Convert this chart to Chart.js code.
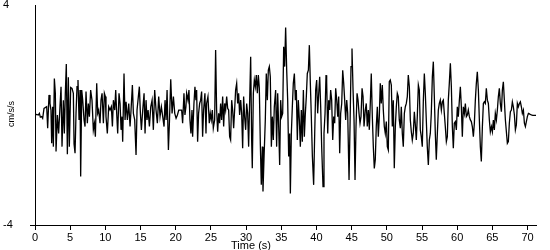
<!DOCTYPE html>
<html>
<head>
<meta charset="utf-8">
<script src="https://cdn.jsdelivr.net/npm/chart.js@4.4.0/dist/chart.umd.min.js"></script>
<style>
  html, body { margin: 0; padding: 0; background: #fff; }
  #wrap { width: 550px; height: 250px; }
</style>
</head>
<body>
<div id="wrap"><canvas id="accelChart" width="550" height="250"></canvas></div>
<script>
// time (s) of each sample
var times = [
  0.00,0.24,0.47,0.62,0.76,0.95,1.09,1.28,1.66,1.80,
  1.99,2.13,2.27,2.37,2.51,2.61,2.75,2.89,2.99,3.18,
  3.36,3.55,3.70,3.84,4.03,4.17,4.31,4.45,4.60,4.74,
  4.88,5.07,5.26,5.45,5.55,5.69,5.83,5.97,6.11,6.26,
  6.40,6.49,6.64,6.78,6.97,7.11,7.25,7.44,7.58,7.73,
  7.91,8.10,8.29,8.44,8.58,8.77,8.91,9.05,9.24,9.38,
  9.53,9.72,9.86,10.00,10.09,10.28,10.47,10.66,10.85,11.00,
  11.14,11.33,11.47,11.61,11.75,11.94,12.09,12.23,12.37,12.46,
  12.65,12.80,12.94,13.13,13.32,13.51,13.65,13.84,13.98,14.17,
  14.36,14.50,14.64,14.83,14.98,15.12,15.31,15.50,15.64,15.78,
  15.92,16.07,16.26,16.45,16.64,16.82,17.01,17.20,17.39,17.58,
  17.77,17.96,18.15,18.34,18.48,18.63,18.77,18.96,19.10,19.29,
  19.48,19.67,19.86,20.05,20.24,20.43,
  20.84,20.98,21.17,21.31,21.45,21.55,21.74,21.88,22.02,22.16,
  22.31,22.40,22.59,22.73,22.87,22.97,23.11,23.25,23.40,23.54,
  23.68,23.82,23.96,24.15,24.30,24.39,24.58,24.77,24.91,25.05,
  25.20,25.34,25.53,25.67,25.81,25.96,26.10,26.24,26.38,26.52,
  26.67,26.81,26.95,27.09,27.24,27.38,27.52,27.66,27.80,27.95,
  28.09,28.23,28.37,28.51,28.66,28.80,28.94,29.08,29.23,29.37,
  29.51,29.65,29.79,29.94,30.08,30.22,30.36,30.51,30.65,30.79,
  30.88,31.03,31.17,31.31,31.45,31.60,31.74,31.88,32.02,32.16,
  32.31,32.40,32.54,32.73,32.87,33.02,33.16,33.30,33.44,33.59,
  33.73,33.87,34.01,34.20,34.34,34.49,34.63,34.77,34.91,35.05,
  35.20,35.34,35.48,35.62,35.77,35.91,36.05,36.19,36.29,36.43,
  36.57,36.71,36.86,37.00,37.14,37.28,37.42,37.57,37.71,37.85,
  37.99,38.14,38.28,38.42,38.56,38.70,38.85,38.99,39.13,39.27,
  39.42,39.60,39.75,39.89,40.03,40.17,40.32,40.46,40.60,40.74,
  40.93,41.07,41.22,41.36,41.45,41.60,41.74,41.88,42.02,42.16,
  42.31,42.45,42.59,42.73,42.88,43.02,43.16,43.30,43.44,43.59,
  43.73,43.87,44.01,44.15,44.30,44.44,44.63,44.77,44.91,45.05,
  45.20,45.34,45.48,45.62,45.77,45.91,46.05,46.19,46.33,46.48,
  46.62,46.76,
  46.94,47.08,47.22,47.37,47.51,47.65,47.79,47.94,48.08,48.22,
  48.36,48.50,48.65,48.79,48.93,49.07,49.21,49.36,49.50,49.64,
  49.78,49.93,50.07,50.21,50.35,50.49,50.64,50.78,50.92,51.06,
  51.21,51.35,51.49,51.63,51.77,51.92,52.06,52.20,52.34,52.49,
  52.63,52.77,52.91,53.05,53.20,53.34,53.48,53.62,53.76,53.91,
  54.05,54.19,54.33,54.48,54.62,54.76,54.90,55.04,55.19,55.33,
  55.47,55.61,55.75,55.90,56.04,56.18,56.32,56.47,56.61,56.75,
  56.89,57.03,57.18,57.32,57.46,57.60,57.75,57.89,58.03,58.17,
  58.31,58.46,58.60,58.74,58.88,59.03,59.17,59.31,59.45,59.59,
  59.74,59.88,60.02,60.16,60.31,60.45,60.59,60.73,60.87,61.02,
  61.16,61.30,61.44,61.58,61.73,61.87,62.01,62.15,62.30,62.44,
  62.58,62.72,62.86,63.01,63.15,63.29,63.43,63.58,63.72,63.86,
  64.00,64.14,64.29,64.43,64.57,64.71,64.86,65.00,65.14,65.28,
  65.42,65.57,65.71,65.85,65.99,66.13,66.28,66.42,66.56,66.70,
  66.85,66.99,67.13,67.27,67.41,67.56,67.70,67.84,67.98,68.13,
  68.27,68.41,68.55,68.69,68.84,68.98,69.12,69.26,69.41,69.55,
  69.69,69.83,69.97,70.12,70.26,70.40,70.54,70.73,71.21
];

// acceleration (cm/s/s) at each of those times
var accel = [
  0.00,0.02,0.00,0.06,-0.08,-0.06,-0.12,0.24,0.30,-0.48,
  0.73,0.42,0.18,-1.03,0.30,-1.15,1.33,0.79,-1.33,0.00,
  -0.67,0.30,1.03,-1.15,0.54,-0.67,0.79,1.85,-1.43,1.37,
  -1.15,1.00,0.97,0.79,-1.05,-1.39,0.06,1.03,1.27,-0.18,
  0.91,-2.24,0.91,0.54,-0.18,-0.42,0.85,-0.30,0.42,-0.06,
  0.91,0.54,-0.54,-0.30,-0.79,1.15,0.06,0.18,-0.30,0.54,
  0.79,-0.30,0.79,0.67,-0.06,-0.67,0.30,0.18,0.30,-0.42,
  0.54,0.18,0.91,0.06,-0.67,0.79,0.42,-0.54,-0.06,-0.97,
  1.51,-0.18,0.48,-0.18,0.42,-0.42,0.18,1.09,0.06,-0.18,
  -1.45,0.18,0.54,1.03,0.06,-0.54,0.18,0.79,-0.67,0.54,
  -0.18,0.18,-0.42,0.30,0.54,-0.54,0.91,0.18,-0.30,0.67,
  -0.06,0.30,-0.06,-0.42,0.54,-0.18,0.91,-1.27,-0.30,1.30,
  0.06,0.67,0.06,-0.12,0.00,0.18,
  0.18,-0.30,0.79,0.00,0.30,0.79,0.54,0.91,-0.18,-0.67,
  0.18,-0.79,0.42,1.03,0.54,0.91,-0.97,0.06,0.42,0.54,
  0.85,-0.79,0.18,0.79,-0.67,0.42,0.67,-0.30,0.06,-0.18,
  0.18,-0.48,-0.18,2.36,0.18,-0.61,0.06,-0.30,0.42,-0.18,
  0.67,-0.42,0.42,0.18,0.67,0.24,0.18,-0.79,-0.91,0.54,
  0.18,-0.48,0.18,0.91,1.15,0.42,0.79,0.00,0.54,0.06,
  -1.21,0.67,-0.06,-0.54,0.42,0.06,-1.15,0.54,2.12,-0.91,
  -1.94,0.79,1.27,1.03,1.45,0.79,1.45,0.97,-1.03,-2.54,
  -1.15,-2.78,-1.63,-0.18,1.51,0.54,1.63,1.76,1.39,-1.15,
  -0.06,-0.91,0.30,0.91,-1.15,0.79,-0.42,-1.82,0.54,-0.06,
  0.06,2.48,1.76,3.18,1.63,0.54,-1.51,-0.67,-2.85,-0.67,
  0.30,1.15,1.51,0.54,0.91,-0.91,0.54,-0.18,-1.15,0.18,
  -0.97,0.91,-0.79,0.06,0.67,1.51,1.63,2.54,1.15,-0.06,
  -1.51,-2.54,-0.67,0.91,1.27,0.06,0.79,1.39,0.30,-1.15,
  -2.60,-0.67,0.06,1.45,1.21,-0.67,0.54,0.18,0.91,0.54,
  -0.91,-0.06,-0.30,0.97,0.54,-0.06,0.67,-1.39,0.06,0.42,
  1.63,1.15,0.54,-0.18,0.54,0.06,-2.36,-0.42,1.76,2.42,
  0.91,-0.18,-2.36,-0.42,0.79,0.54,0.06,-0.30,-0.06,0.97,
  0.67,-0.42,
  0.18,0.42,-0.42,0.18,-0.54,0.42,1.51,-0.06,-1.15,-1.94,
  -1.63,-0.42,0.30,-0.79,-0.06,1.15,0.42,1.09,0.18,-0.42,
  -0.67,-0.24,-1.15,-1.27,1.21,1.27,1.09,-0.42,0.54,-1.94,
  -0.42,0.30,0.79,0.67,-0.18,-0.48,0.30,-0.67,-1.15,0.06,
  0.30,0.42,0.67,1.45,1.03,-0.18,-0.61,-0.91,-0.67,0.12,
  -0.36,-0.91,-0.06,1.09,0.91,-0.54,-0.79,-1.15,0.54,1.51,
  0.79,-0.18,-1.15,-1.82,-0.91,-0.67,0.06,1.39,1.94,0.67,
  -0.67,-1.63,-0.67,0.18,0.42,0.54,0.18,0.48,0.54,0.06,
  -0.42,-0.97,-0.79,0.54,1.15,1.88,1.03,-0.42,-1.21,-0.30,
  -0.24,-0.54,0.30,-0.06,0.54,1.03,0.30,-0.79,0.30,0.06,
  0.42,-0.06,0.00,0.18,-0.06,-0.18,-0.24,-0.42,-0.79,-0.30,
  0.54,1.15,1.57,0.91,-0.18,-1.15,-1.69,-0.42,0.42,0.48,
  0.42,0.97,0.54,0.42,-0.18,-0.61,-0.42,-0.61,-0.18,-0.54,
  0.06,-0.18,0.18,0.67,0.97,0.42,0.12,0.91,1.21,0.54,
  -0.18,-0.61,-1.03,-0.97,-0.30,0.12,0.18,0.48,0.30,0.00,
  -0.54,-0.36,0.42,0.30,0.42,0.48,0.30,0.06,0.18,-0.30,
  -0.42,-0.24,-0.06,0.06,0.04,0.02,0.00,-0.01,-0.01
];

var xTicks = [0, 5, 10, 15, 20, 25, 30, 35, 40, 45, 50, 55, 60, 65, 70];
var yTicks = [-4, 4];
var xTitle = 'Time (s)';
var yTitle = 'cm/s/s';

var fontFamily = '"Liberation Sans", Arial, sans-serif';

// axis titles placed by hand, like the original plot
var axisTitles = {
    id: 'axisTitles',
    afterDraw: function (chart) {
        var ctx = chart.ctx;
        ctx.save();
        ctx.fillStyle = '#000';
        ctx.textAlign = 'center';
        ctx.textBaseline = 'middle';
        ctx.font = '11px ' + fontFamily;
        ctx.fillText(xTitle, 251, 246);
        ctx.translate(12, 114);
        ctx.rotate(-Math.PI / 2);
        ctx.font = '9px ' + fontFamily;
        ctx.fillText(yTitle, 0, 0);
        ctx.restore();
    }
};

var points = times.map(function (t, i) {
    return { x: t, y: accel[i] };
});

var ctx = document.getElementById('accelChart').getContext('2d');
var accelChart = new Chart(ctx, {
    type: 'line',
    data: {
        datasets: [{
            data: points,
            borderColor: '#000',
            borderWidth: 1.3,
            pointRadius: 0,
            tension: 0,
            fill: false
        }]
    },
    options: {
        responsive: false,
        animation: false,
        devicePixelRatio: 1,
        layout: { padding: { left: 3, top: 5, right: 14, bottom: 0 } },
        plugins: {
            legend: { display: false },
            tooltip: { enabled: false }
        },
        scales: {
            x: {
                type: 'linear',
                min: 0,
                max: 71.2,
                afterBuildTicks: function (scale) {
                    scale.ticks = xTicks.map(function (v) { return { value: v }; });
                },
                afterFit: function (scale) {
                    scale.height = 25;
                    scale.paddingLeft = 0;
                    scale.paddingRight = 0;
                },
                border: { display: true, color: '#000', width: 1 },
                grid: {
                    drawOnChartArea: false,
                    drawTicks: true,
                    tickLength: 5,
                    tickColor: '#000'
                },
                ticks: {
                    color: '#000',
                    padding: 1,
                    maxRotation: 0,
                    autoSkip: false,
                    font: { family: fontFamily, size: 11 }
                }
            },
            y: {
                min: -4,
                max: 4,
                afterBuildTicks: function (scale) {
                    scale.ticks = yTicks.map(function (v) { return { value: v }; });
                },
                afterFit: function (scale) {
                    scale.width = 32;
                    scale.paddingTop = 0;
                    scale.paddingBottom = 0;
                },
                border: { display: true, color: '#000', width: 1 },
                grid: {
                    drawOnChartArea: false,
                    drawTicks: true,
                    tickLength: 5,
                    tickColor: function (c) {
                        return c.tick && c.tick.value === -4 ? '#000' : 'rgba(0,0,0,0)';
                    }
                },
                ticks: {
                    color: '#000',
                    crossAlign: 'far',
                    font: { family: fontFamily, size: 11 }
                }
            }
        }
    },
    plugins: [axisTitles]
});
</script>
</body>
</html>
